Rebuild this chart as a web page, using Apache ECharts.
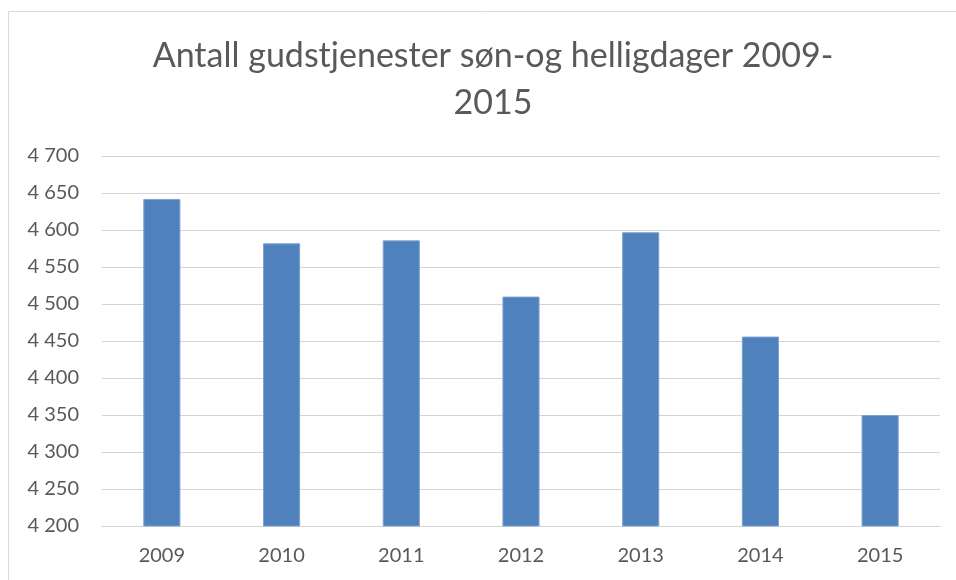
<!DOCTYPE html>
<html>
<head>
<meta charset="utf-8">
<script src="https://cdn.jsdelivr.net/npm/echarts@6/dist/echarts.min.js"></script>
<style>
    html, body { margin: 0; padding: 0; background: #fff; }
    #chart { width: 956px; height: 580px; }
</style>
</head>
<body>
<div id="chart"></div>
<script>
// years on the x axis
const years = ['2009', '2010', '2011', '2012', '2013', '2014', '2015']
// antall gudstjenester
const services = [4642, 4582, 4586, 4510, 4597, 4456, 4350]
const yMin = 4200
const yMax = 4700
const yStep = 50

const chart = echarts.init(document.getElementById('chart'), null, { renderer: 'canvas' })

// thousands separated by a space, like "4 700"
function fmt(v) {
    return String(v).replace(/\B(?=(\d{3})+(?!\d))/g, ' ')
}

chart.setOption({
    backgroundColor: '#ffffff',
    animation: false,
    textStyle: { fontFamily: 'Lato' },
    title: {
        text: 'Antall gudstjenester søn-og helligdager 2009-\n2015',
        left: 488,
        top: 28,
        textAlign: 'center',
        textStyle: {
            fontFamily: 'Lato',
            fontSize: 34,
            fontWeight: 'normal',
            color: '#595959',
            lineHeight: 47
        }
    },
    graphic: [{
        // thin frame round the chart area
        type: 'rect',
        silent: true,
        shape: { x: 8.5, y: 11.5, width: 1000, height: 700 },
        style: { fill: 'none', stroke: '#d9d9d9', lineWidth: 1 }
    }],
    grid: {
        left: 102,
        right: 16,
        top: 156,
        bottom: 54,
        containLabel: false
    },
    xAxis: {
        type: 'category',
        data: years,
        axisTick: { show: false },
        axisLine: { show: true, lineStyle: { color: '#d4d4d4', width: 1 } },
        axisLabel: {
            color: '#595959',
            fontFamily: 'Lato',
            fontSize: 20,
            margin: 20
        }
    },
    yAxis: {
        type: 'value',
        min: yMin,
        max: yMax,
        interval: yStep,
        axisLine: { show: false },
        axisTick: { show: false },
        splitLine: { lineStyle: { color: '#d4d4d4', width: 1 } },
        axisLabel: {
            color: '#595959',
            fontFamily: 'Lato',
            fontSize: 20,
            margin: 23,
            formatter: fmt
        }
    },
    series: [{
        type: 'bar',
        data: services,
        barWidth: '31%',
        itemStyle: {
            color: '#4f81bd',
            borderColor: '#7da2d1',
            borderWidth: 1
        }
    }]
})
</script>
</body>
</html>
